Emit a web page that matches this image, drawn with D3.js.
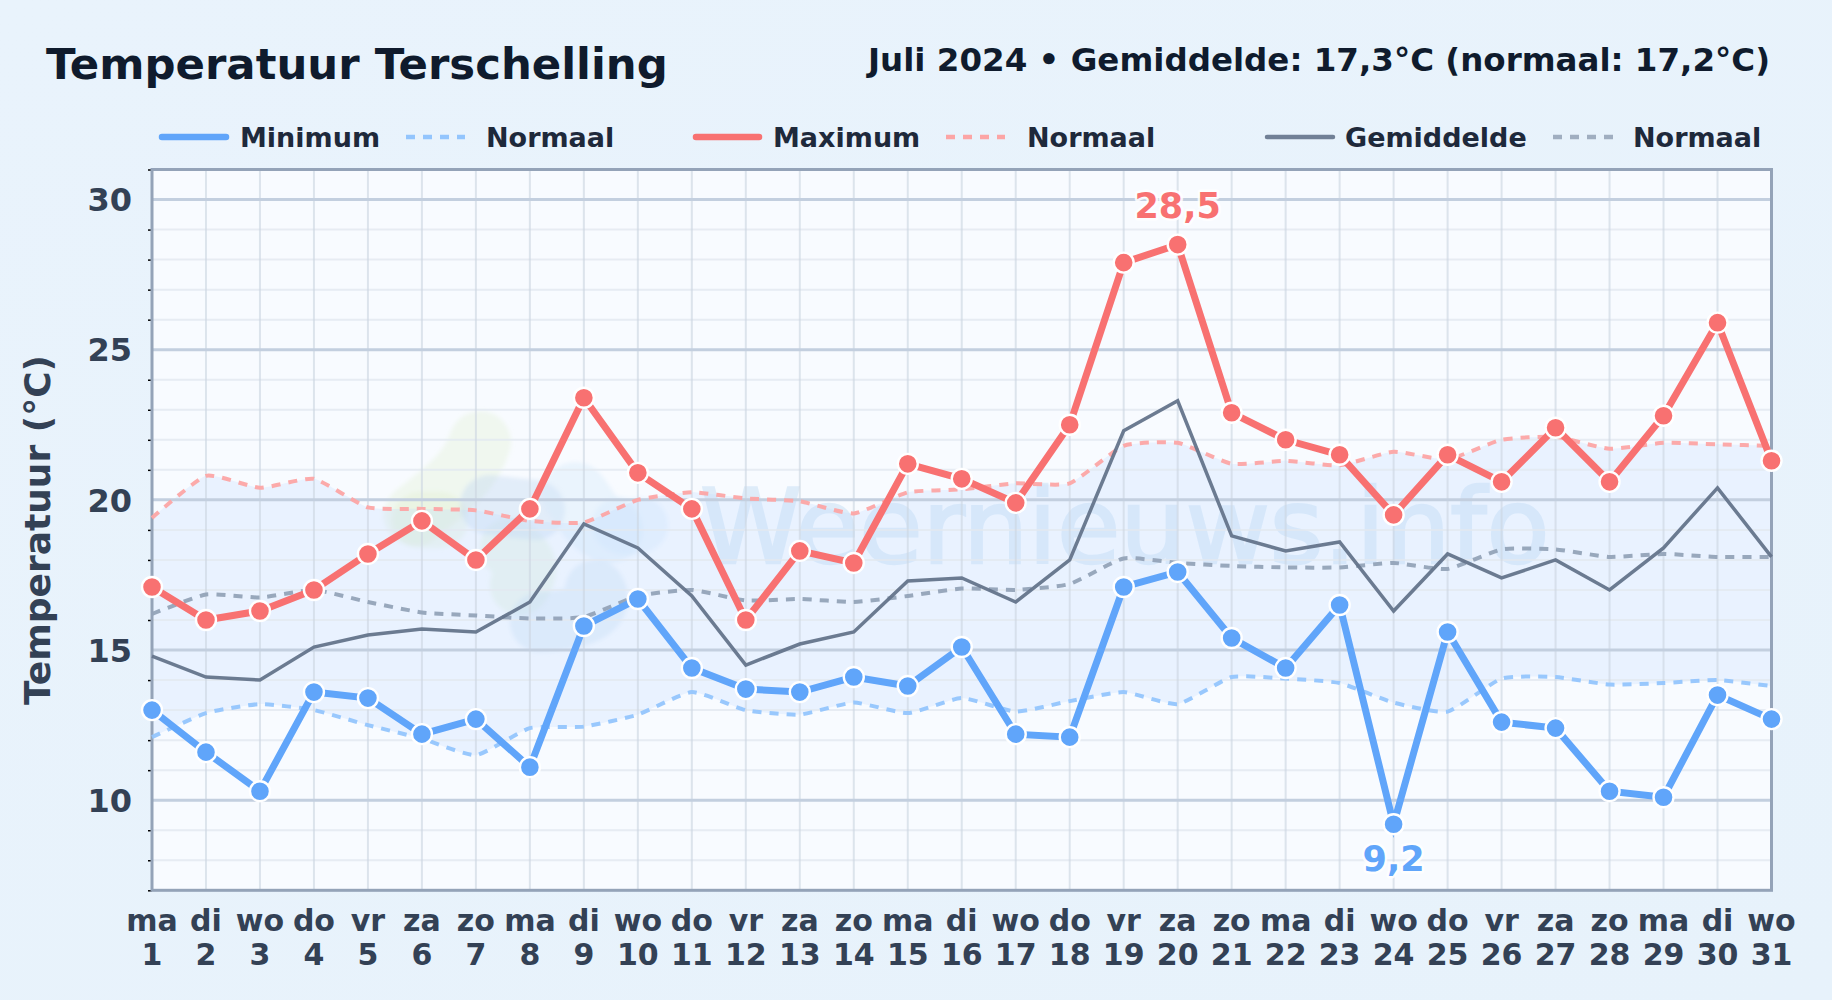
<!DOCTYPE html>
<html><head><meta charset="utf-8">
<script src="https://cdn.jsdelivr.net/npm/d3@7"></script>
<style>
html,body{margin:0;padding:0;background:#e8f3fc;overflow:hidden}
svg{display:block}
text{font-family:"DejaVu Sans",sans-serif}
</style></head><body>
<svg id="c" width="1832" height="1000"></svg>
<script>
const dayNames=["ma","di","wo","do","vr","za","zo","ma","di","wo","do","vr","za","zo","ma","di","wo","do","vr","za","zo","ma","di","wo","do","vr","za","zo","ma","di","wo"];
const days=d3.range(1,32);
const minT=[13.0,11.6,10.3,13.6,13.4,12.2,12.7,11.1,15.8,16.7,14.4,13.7,13.6,14.1,13.8,15.1,12.2,12.1,17.1,17.6,15.4,14.4,16.5,9.2,15.6,12.6,12.4,10.3,10.1,13.5,12.7];
const maxT=[17.1,16.0,16.3,17.0,18.2,19.3,18.0,19.7,23.4,20.9,19.7,16.0,18.3,17.9,21.2,20.7,19.9,22.5,27.9,28.5,22.9,22.0,21.5,19.5,21.5,20.6,22.4,20.6,22.8,25.9,21.3];
const avgT=[14.8,14.1,14.0,15.1,15.5,15.7,15.6,16.6,19.2,18.4,16.8,14.5,15.2,15.6,17.3,17.4,16.6,18.0,22.3,23.3,18.8,18.3,18.6,16.3,18.2,17.4,18.0,17.0,18.4,20.4,18.1];
const normMin=[12.1,12.9,13.2,13.0,12.5,12.05,11.5,12.4,12.45,12.85,13.6,13.0,12.85,13.25,12.9,13.4,12.95,13.3,13.6,13.2,14.1,14.05,13.9,13.25,12.95,14.05,14.1,13.85,13.9,14.0,13.8];
const normMax=[19.4,20.8,20.4,20.7,19.75,19.7,19.65,19.3,19.25,20.0,20.25,20.05,19.95,19.55,20.25,20.35,20.55,20.55,21.8,21.9,21.2,21.3,21.15,21.6,21.35,22.0,22.1,21.7,21.9,21.85,21.8];
const normAvg=[16.2,16.85,16.75,17.0,16.6,16.25,16.15,16.05,16.1,16.8,17.0,16.65,16.7,16.6,16.8,17.05,17.0,17.2,18.05,17.9,17.8,17.75,17.75,17.9,17.7,18.35,18.35,18.1,18.2,18.1,18.1];
const yMajor=[10,15,20,25,30];
const yDomain=[7,31];
const legendItems=[
 {label:"Minimum",color:"#60a5fa",w:6.5,dash:null,x0:162,x1:226,tx:240},
 {label:"Normaal",color:"#93c5fd",w:4.5,dash:"9 8",x0:406,x1:465,tx:486},
 {label:"Maximum",color:"#f87171",w:6.5,dash:null,x0:696,x1:759,tx:773},
 {label:"Normaal",color:"#fca5a5",w:4.5,dash:"9 8",x0:946,x1:1005,tx:1027},
 {label:"Gemiddelde",color:"#718096",w:4.5,dash:null,x0:1267,x1:1333,tx:1345},
 {label:"Normaal",color:"#a0aec0",w:4.5,dash:"9 8",x0:1553,x1:1618,tx:1633}
];
const L=152,R=1771.5,T=169.5,B=890.3;
const svg=d3.select("#c");
const x=d3.scalePoint().domain(days).range([L,R]);
const y=d3.scaleLinear().domain(yDomain).range([B,T]);
const defs=svg.append("defs");
const bg=defs.append("linearGradient").attr("id","bg").attr("x1",0).attr("y1",0).attr("x2",1).attr("y2",1);
bg.append("stop").attr("offset",0).attr("stop-color","#e9f3fc");
bg.append("stop").attr("offset",1).attr("stop-color","#e7f2fb");
const fl=defs.append("filter").attr("id","soft").attr("filterUnits","userSpaceOnUse").attr("x",300).attr("y",350).attr("width",500).attr("height",400);
fl.append("feGaussianBlur").attr("stdDeviation",2);
svg.append("rect").attr("width",1832).attr("height",1000).attr("fill","url(#bg)");
svg.append("rect").attr("x",L).attr("y",T).attr("width",R-L).attr("height",B-T).attr("fill","#f8fbff");

// watermark
const wm=svg.append("g").attr("filter","url(#soft)");
const blobs=[
 {d:"M480 442 C470 475 440 495 415 515",c:"#dbeec6",w:62,o:.28},
 {d:"M420 520 L440 520",c:"#dbeec6",w:56,o:.28},
 {d:"M510 548 C528 560 530 570 520 585",c:"#d3eacb",w:60,o:.3},
 {d:"M490 505 L535 510",c:"#c3d8f0",w:60,o:.42},
 {d:"M575 495 C585 505 590 525 610 530",c:"#d4e9fb",w:66,o:.4},
 {d:"M620 525 C630 530 640 525 640 525",c:"#d4e9fb",w:56,o:.36},
 {d:"M595 590 C605 605 590 620 540 622",c:"#c9def3",w:60,o:.4}
];
wm.selectAll("path").data(blobs).join("path").attr("d",d=>d.d).attr("fill","none")
 .attr("stroke",d=>d.c).attr("stroke-width",d=>d.w).attr("stroke-linecap","round").attr("stroke-opacity",d=>d.o);
svg.append("text").attr("x",700).attr("y",563).attr("font-size",103).attr("fill","#bcd9f2").attr("stroke","#bcd9f2").attr("stroke-width",2.5).attr("opacity",.42).text("Weernieuws.info");

// band between normals
const band=d3.area().x((d,i)=>x(days[i])).y0((d,i)=>y(normMin[i])).y1((d,i)=>y(normMax[i])).curve(d3.curveCardinal.tension(0.5));
svg.append("path").attr("d",band(days)).attr("fill","#bfdbfe").attr("fill-opacity",.27);

// grid
const g=svg.append("g");
d3.range(7,32).filter(v=>!yMajor.includes(v)).forEach(v=>{
 g.append("line").attr("x1",L).attr("x2",R).attr("y1",y(v)).attr("y2",y(v)).attr("stroke","#e2e8f0").attr("stroke-opacity",.8).attr("stroke-width",2);
});
days.forEach(d=>{g.append("line").attr("x1",x(d)).attr("x2",x(d)).attr("y1",T).attr("y2",B).attr("stroke","#cbd5e1").attr("stroke-opacity",.62).attr("stroke-width",2);});
yMajor.forEach(v=>{g.append("line").attr("x1",L).attr("x2",R).attr("y1",y(v)).attr("y2",y(v)).attr("stroke","#c3cfdf").attr("stroke-width",3);});

// axes
const minor=d3.range(7,32).filter(v=>!yMajor.includes(v));
const axMinor=svg.append("g").attr("transform",`translate(${L},0)`).call(d3.axisLeft(y).tickValues(minor).tickSize(4).tickFormat(""));
axMinor.select(".domain").remove();
axMinor.selectAll("line").attr("stroke","#000").attr("stroke-width",1.5);
const axMajor=svg.append("g").attr("transform",`translate(${L},1)`).call(d3.axisLeft(y).tickValues(yMajor).tickSize(0).tickPadding(20));
axMajor.select(".domain").remove();
axMajor.selectAll("text").attr("font-size",32).attr("font-weight",700).attr("fill","#334155").attr("font-family",'"DejaVu Sans"');
svg.append("rect").attr("x",L).attr("y",T).attr("width",R-L).attr("height",B-T).attr("fill","none").attr("stroke","#94a3b8").attr("stroke-width",3);

const xl=svg.append("g");
days.forEach((d,i)=>{
 const t=xl.append("text").attr("text-anchor","middle").attr("font-size",30).attr("font-weight",700).attr("fill","#334155");
 t.append("tspan").attr("x",x(d)).attr("y",931).text(dayNames[i]);
 t.append("tspan").attr("x",x(d)).attr("y",965).text(d);
});
svg.append("text").attr("transform","translate(50,530) rotate(-90)").attr("text-anchor","middle").attr("font-size",36).attr("font-weight",700).attr("fill","#334155").text("Temperatuur (°C)");

// lines
const lineSmooth=d3.line().x((d,i)=>x(days[i])).y(d=>y(d)).curve(d3.curveCardinal.tension(0.5));
const line=d3.line().x((d,i)=>x(days[i])).y(d=>y(d));
[[normMin,"#93c5fd"],[normMax,"#fca5a5"],[normAvg,"#94a3b8"]].forEach(([s,c])=>{
 svg.append("path").attr("d",lineSmooth(s)).attr("fill","none").attr("stroke",c).attr("stroke-width",4).attr("stroke-dasharray","9 8").attr("stroke-opacity",.95);
});
svg.append("path").attr("d",line(avgT)).attr("fill","none").attr("stroke","#64748b").attr("stroke-width",3.5).attr("stroke-opacity",.95);
[[minT,"#60a5fa"],[maxT,"#f87171"]].forEach(([s,c])=>{
 svg.append("path").attr("d",line(s)).attr("fill","none").attr("stroke",c).attr("stroke-width",7);
 svg.append("g").selectAll("circle").data(s).join("circle").attr("cx",(d,i)=>x(days[i])).attr("cy",d=>y(d)).attr("r",10).attr("fill",c).attr("stroke","#fff").attr("stroke-width",2.4);
});

// extreme labels
const fmt=v=>String(v).replace(".",",");
const iMax=d3.maxIndex(maxT), iMin=d3.minIndex(minT);
[[maxT[iMax],iMax,-27,"#f87171"],[minT[iMin],iMin,47,"#60a5fa"]].forEach(([v,i,dy,c])=>{
 svg.append("text").attr("x",x(days[i])).attr("y",y(v)+dy).attr("text-anchor","middle").attr("font-size",35).attr("font-weight",700)
  .attr("fill",c).attr("stroke","#fff").attr("stroke-opacity",.85).attr("stroke-width",5).attr("paint-order","stroke").attr("stroke-linejoin","round").text(fmt(v));
});

// legend
legendItems.forEach(l=>{
 svg.append("line").attr("x1",l.x0).attr("x2",l.x1).attr("y1",137).attr("y2",137).attr("stroke",l.color).attr("stroke-width",l.w)
  .attr("stroke-linecap",l.dash?"butt":"round").attr("stroke-dasharray",l.dash);
 svg.append("text").attr("x",l.tx).attr("y",146.5).attr("font-size",27).attr("font-weight",700).attr("fill","#1e293b").text(l.label);
});
svg.append("text").attr("x",46).attr("y",79).attr("font-size",43.4).attr("font-weight",700).attr("fill","#0f1b2d").text("Temperatuur Terschelling");
svg.append("text").attr("x",1770).attr("y",71).attr("text-anchor","end").attr("font-size",32.5).attr("font-weight",700).attr("fill","#0f1b2d").text("Juli 2024 • Gemiddelde: 17,3°C (normaal: 17,2°C)");
</script></body></html>
